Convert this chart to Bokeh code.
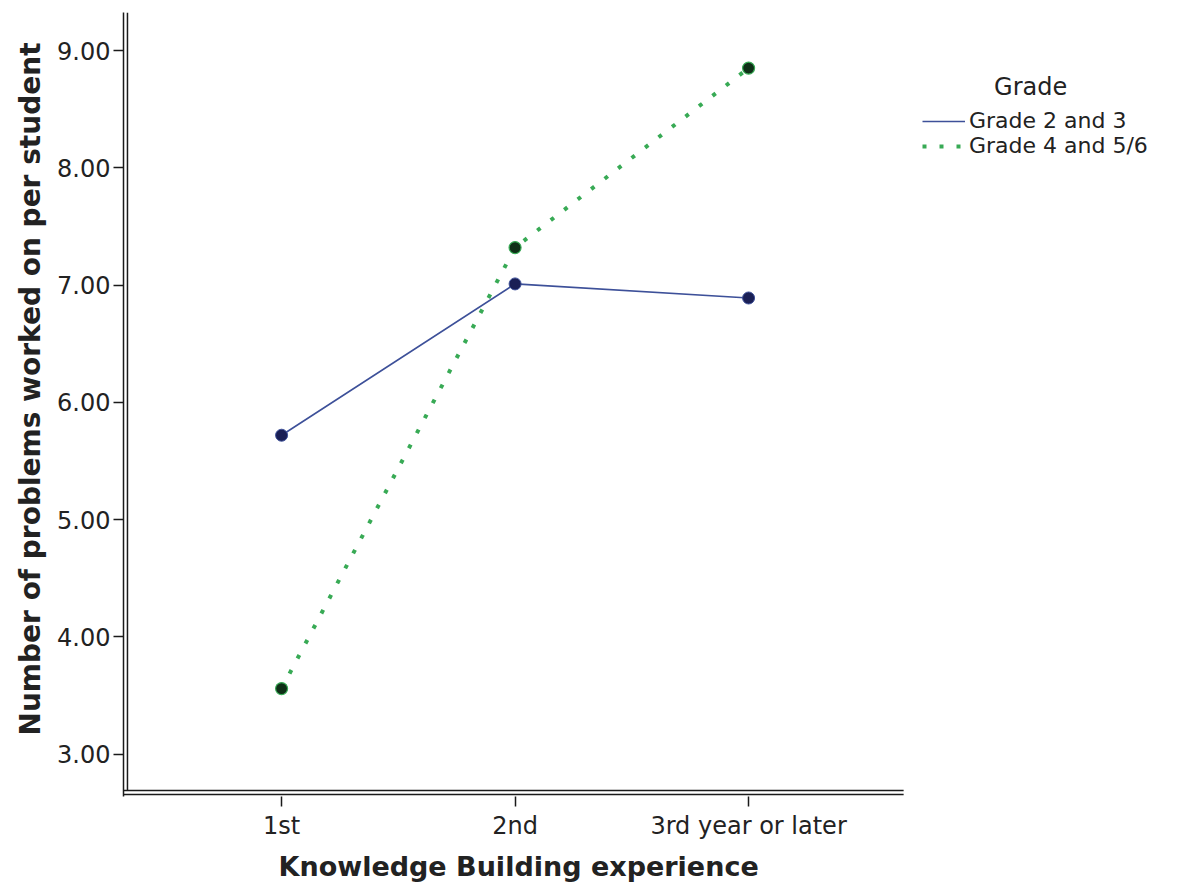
from bokeh.plotting import figure
from bokeh.models import Range1d, Legend, LegendItem, Label, FixedTicker, PrintfTickFormatter, Title
from bokeh.embed import file_html
from bokeh.resources import INLINE

# ---- data ----
categories = ["1st", "2nd", "3rd year or later"]
grade_23 = [5.72, 7.01, 6.89]
grade_456 = [3.56, 7.32, 8.85]
series_names = ["Grade 2 and 3", "Grade 4 and 5/6"]
legend_title = "Grade"
x_title = "Knowledge Building experience"
y_title = "Number of problems worked on per student"
y_ticks = [3, 4, 5, 6, 7, 8, 9]

xs = list(range(len(categories)))

FONT = "DejaVu Sans"
TXT = "#222222"
AX = "#1a1a1a"

# axis extents (data units)
X0, X1 = -0.677, 2.664
Y0, Y1 = 2.640, 9.324

W, H = 1176, 888
p = figure(width=W, height=H, output_backend="svg", toolbar_location=None,
           x_range=Range1d(X0, 3.824), y_range=Range1d(Y0, Y1),
           min_border_left=123, min_border_right=2, min_border_top=12, min_border_bottom=H - 796)

p.outline_line_color = None
p.grid.visible = False
p.background_fill_color = "white"

# axes
for ax in (p.xaxis[0], p.yaxis[0]):
    ax.axis_line_width = 1.5
    ax.axis_line_color = AX
    ax.major_tick_line_color = AX
    ax.major_tick_line_width = 1.5
    ax.major_tick_out = 10
    ax.major_tick_in = 0
    ax.minor_tick_line_color = None
    ax.major_label_text_font = FONT
    ax.major_label_text_font_size = "24px"
    ax.major_label_text_color = TXT

p.xaxis.ticker = FixedTicker(ticks=xs)
p.xaxis.major_label_overrides = {i: c for i, c in zip(xs, categories)}
p.xaxis.axis_line_color = None
p.xaxis.major_label_standoff = 5

p.yaxis.ticker = FixedTicker(ticks=y_ticks)
p.yaxis.formatter = PrintfTickFormatter(format="%.2f")
p.yaxis.major_label_standoff = 3

# axis titles
p.add_layout(Title(text=x_title, align="left", offset=155, standoff=12,
                   text_font=FONT, text_font_size="27px", text_font_style="bold",
                   text_color=TXT), "below")
p.add_layout(Title(text=y_title, align="left", offset=61, standoff=12, vertical_align="top",
                   text_font=FONT, text_font_size="28px", text_font_style="bold",
                   text_color=TXT), "left")

# doubled axis lines
yb_out, yb_in = 2.657, 2.691
x_in = -0.660
p.segment(x0=[X0, X0], y0=[yb_out, yb_in], x1=[X1, X1], y1=[yb_out, yb_in],
          line_color=AX, line_width=1.5)
p.segment(x0=[x_in], y0=[yb_in], x1=[x_in], y1=[Y1], line_color=AX, line_width=1.5)

# series
BLUE = "#3d5099"
BLUE_DARK = "#1a1f55"
GREEN = "#38aa55"
GREEN_DARK = "#0f2f17"

r1 = p.line(xs, grade_23, line_color=BLUE, line_width=1.6)
p.scatter(xs, grade_23, size=12, fill_color=BLUE_DARK, line_color=BLUE, line_width=1)

r2 = p.line(xs, grade_456, line_color=GREEN, line_width=4, line_dash="4 13")
p.scatter(xs, grade_456, size=12, fill_color=GREEN_DARK, line_color=GREEN, line_width=1.2)

legend = Legend(items=[LegendItem(label=series_names[0], renderers=[r1]),
                       LegendItem(label=series_names[1], renderers=[r2])],
                location=(799, 638), padding=0, margin=0, spacing=0,
                glyph_width=43, glyph_height=24, label_height=24, label_standoff=4,
                border_line_alpha=0, background_fill_alpha=0,
                label_text_font=FONT, label_text_font_size="22px", label_text_color=TXT)
p.add_layout(legend, "center")

p.add_layout(Label(x=3.208, y=8.685, text=legend_title, text_align="center", text_baseline="middle",
                   text_font=FONT, text_font_size="24px", text_color=TXT))

open("out.html", "w").write(file_html(p, INLINE))
